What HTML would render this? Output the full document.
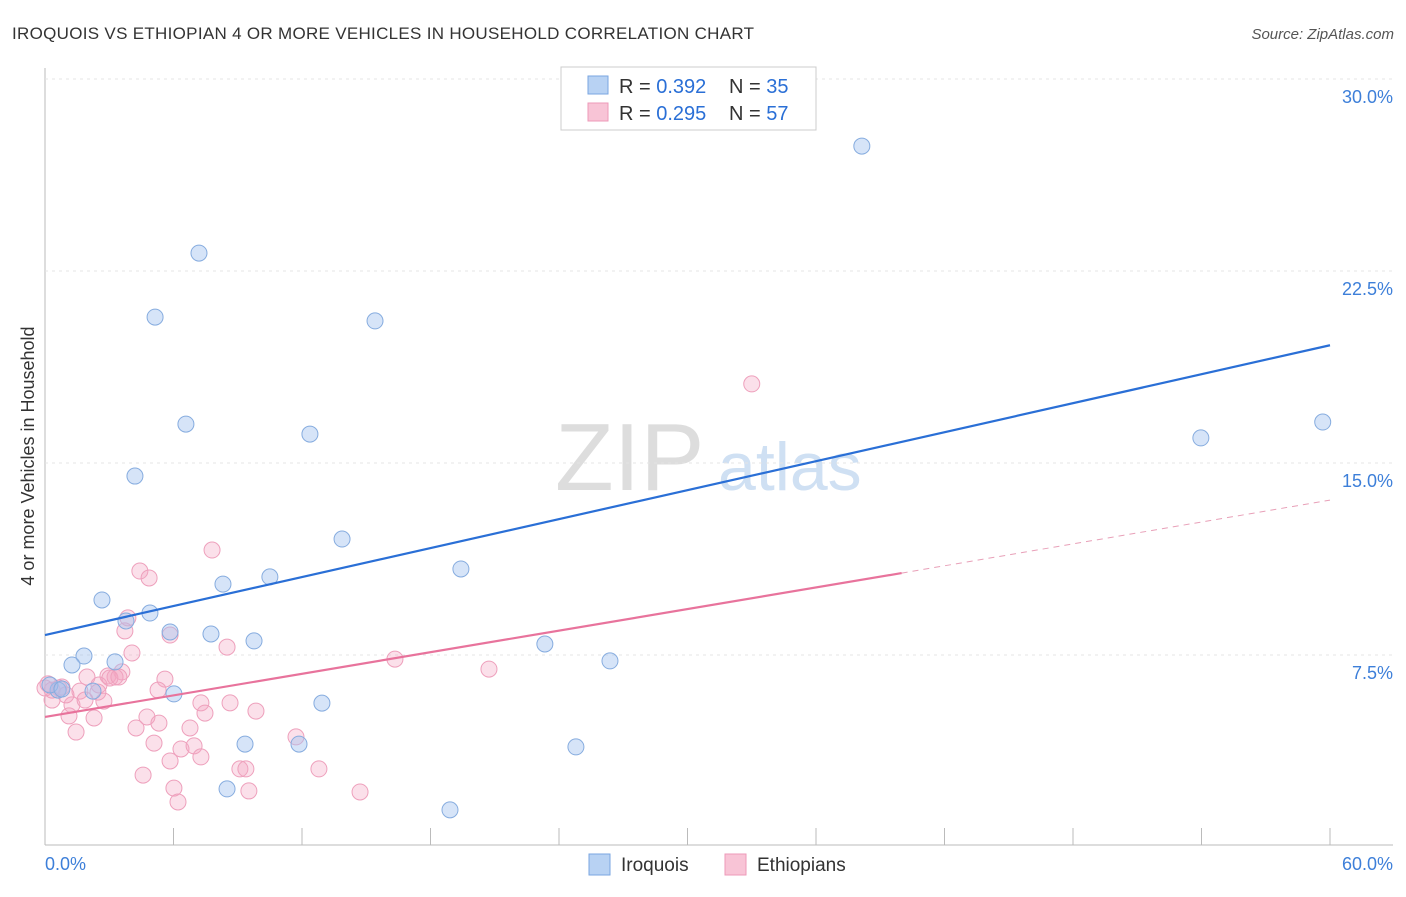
<!DOCTYPE html>
<html><head><meta charset="utf-8"><style>
body{margin:0;background:#fff;font-family:"Liberation Sans",sans-serif}
svg text{font-family:"Liberation Sans",sans-serif}
</style></head><body>
<svg id="c" width="1406" height="892">
<text x="12" y="39" font-size="17" fill="#333" letter-spacing="0.3">IROQUOIS VS ETHIOPIAN 4 OR MORE VEHICLES IN HOUSEHOLD CORRELATION CHART</text>
<text x="1394" y="39" font-size="15" fill="#555" text-anchor="end" font-style="italic">Source: ZipAtlas.com</text>
<text x="34" y="456" font-size="18" fill="#333" text-anchor="middle" transform="rotate(-90 34 456)">4 or more Vehicles in Household</text>
<g><text x="555" y="490" font-size="96" font-family="Liberation Serif" fill="#ddd">ZIP</text><text x="718" y="490" font-size="68" fill="#cfe0f3">atlas</text></g>
<g id="grid"></g><g id="pts"></g><g id="lines"></g>
<g>
<rect x="561" y="67" width="255" height="63" fill="#fff" stroke="#ccc"/>
<rect x="588" y="76" width="20" height="18" fill="#b8d2f3" stroke="#7aa6e0"/>
<rect x="588" y="103" width="20" height="18" fill="#f8c4d6" stroke="#ee9ab8"/>
<text x="619" y="93" font-size="20" fill="#333">R = <tspan fill="#2a6fd6">0.392</tspan></text>
<text x="729" y="93" font-size="20" fill="#333">N = <tspan fill="#2a6fd6">35</tspan></text>
<text x="619" y="120" font-size="20" fill="#333">R = <tspan fill="#2a6fd6">0.295</tspan></text>
<text x="729" y="120" font-size="20" fill="#333">N = <tspan fill="#2a6fd6">57</tspan></text>
</g>
<g>
<rect x="589" y="854" width="21" height="21" fill="#b8d2f3" stroke="#7aa6e0"/>
<text x="621" y="871" font-size="19" fill="#333">Iroquois</text>
<rect x="725" y="854" width="21" height="21" fill="#f8c4d6" stroke="#ee9ab8"/>
<text x="757" y="871" font-size="19" fill="#333">Ethiopians</text>
</g>
</svg>
<script>
const xTicks=[0,60];
const yTicks=[7.5,15,22.5,30];
const iroX=[38.14,7.19,5.14,15.41,6.58,12.37,53.97,59.66,4.2,13.87,19.42,10.5,8.31,2.66,4.9,3.78,7.75,5.84,9.76,23.34,1.82,1.26,3.27,26.38,2.24,6.02,12.93,0.61,0.23,9.34,11.86,24.79,8.5,18.91,0.79];
const iroY=[27.38,23.2,20.7,20.55,16.52,16.13,15.98,16.6,14.49,12.03,10.86,10.55,10.27,9.65,9.14,8.83,8.32,8.4,8.05,7.93,7.46,7.11,7.23,7.27,6.09,5.98,5.62,6.13,6.33,4.02,4.02,3.91,2.27,1.45,6.17];
const ethX=[33.0,7.8,4.43,4.86,3.87,3.73,5.84,8.5,4.06,16.34,20.73,3.59,2.94,5.6,1.96,3.27,2.52,1.63,0.65,2.47,5.28,2.75,0.33,1.26,7.28,8.64,9.85,1.12,2.29,4.76,7.47,5.32,4.25,6.77,1.45,5.09,6.35,6.96,11.72,7.28,5.84,9.1,9.38,12.79,4.58,6.02,9.52,14.71,6.21,0.14,0.33,0.79,3.03,3.45,1.87,0.98,0];
const ethY=[18.09,11.6,10.78,10.51,8.95,8.44,8.28,7.81,7.58,7.34,6.95,6.84,6.68,6.56,6.64,6.64,6.33,6.09,6.21,6.05,6.13,5.7,5.74,5.55,5.63,5.63,5.31,5.12,5.04,5.08,5.23,4.84,4.65,4.65,4.49,4.06,3.83,3.95,4.3,3.52,3.36,3.05,3.05,3.05,2.81,2.3,2.19,2.15,1.76,6.37,6.13,6.25,6.6,6.64,5.74,5.94,6.21];
const iroLine=[8.28,19.6];
const ethLine=[5.08,10.7,13.55];
const sx=v=>45+v*1285/60, sy=v=>847-v*25.6;
const NS="http://www.w3.org/2000/svg";
function mk(p,t,a){const e=document.createElementNS(NS,t);for(const k in a)e.setAttribute(k,a[k]);p.appendChild(e);return e;}
const g=document.getElementById('grid');
let ax=mk(g,'line',{x1:45,y1:68,x2:45,y2:845,stroke:'#bbb'});


let bx=mk(g,'line',{x1:45,y1:845,x2:1393,y2:845,stroke:'#bbb'});


for(let i=0;i<=10;i++){const x=sx(i*6);let t=mk(g,'line',{x1:x,y1:828,x2:x,y2:845,stroke:'#bbb'});

}
yTicks.forEach(v=>{let l=mk(g,'line',{x1:45,y1:sy(v),x2:1393,y2:sy(v),stroke:'#e4e4e4','stroke-dasharray':'3,4'});


let t=mk(g,'text',{x:1393,y:sy(v)+24,'font-size':18,fill:'#3d7fd9','text-anchor':'end'});t.textContent=v.toFixed(1)+'%';

});
xTicks.forEach((v,i)=>{let t=mk(g,'text',{x:i?1393:45,y:870,'font-size':18,fill:'#3d7fd9','text-anchor':i?'end':'start'});t.textContent=v.toFixed(1)+'%';

});
const P=document.getElementById('pts');
ethX.forEach((x,i)=>{let c=mk(P,'circle',{cx:sx(x),cy:sy(ethY[i]),r:8,fill:'rgba(244,165,195,0.35)',stroke:'#eea0bc','stroke-width':1});

});
iroX.forEach((x,i)=>{let c=mk(P,'circle',{cx:sx(x),cy:sy(iroY[i]),r:8,fill:'rgba(164,196,240,0.45)',stroke:'#86acdf','stroke-width':1});

});
const L=document.getElementById('lines');
let a=mk(L,'line',{x1:sx(0),y1:sy(iroLine[0]),x2:sx(60),y2:sy(iroLine[1]),stroke:'#2a6fd6','stroke-width':2.2});


let b=mk(L,'line',{x1:sx(0),y1:sy(ethLine[0]),x2:sx(40),y2:sy(ethLine[1]),stroke:'#e8739c','stroke-width':2.2});


let d=mk(L,'line',{x1:sx(40),y1:sy(ethLine[1]),x2:sx(60),y2:sy(ethLine[2]),stroke:'#e8a0b8','stroke-width':1,'stroke-dasharray':'6,5'});


</script>
</body></html>
